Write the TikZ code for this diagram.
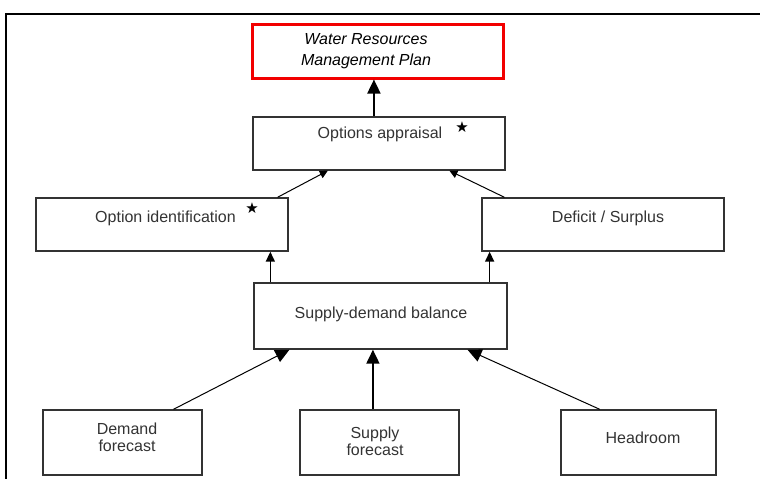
\documentclass[tikz,border=0pt]{standalone}
\usepackage{fontspec}
\setmainfont{Liberation Sans}
\newfontfamily\symfont{DejaVu Sans}
\usetikzlibrary{arrows.meta,calc}
\begin{document}
\begin{tikzpicture}[x=1pt,y=-1pt,
  box/.style={draw=black!80,line width=1.4pt,fill=white,inner sep=0pt},
  redbox/.style={draw=red!95!black,line width=3pt,inner sep=0pt},
  lbl/.style={text=black!80,font=\fontsize{16}{17}\selectfont,align=center,inner sep=0pt},
  ital/.style={text=black,font=\fontsize{16}{21}\selectfont\itshape,align=center,inner sep=0pt},
  starmark/.style={font=\symfont\fontsize{15}{15}\selectfont,inner sep=0pt},
  bigarr/.style={line width=1.8pt,-{Triangle[width=13pt,length=14pt]}},
  midarr/.style={line width=1.6pt,-{Triangle[width=9pt,length=10pt]}},
  thinarr/.style={line width=1pt,-{Triangle[width=8pt,length=8pt]}},
  diagarr/.style={line width=1pt,-{Triangle[width=13pt,length=14pt]}}]
\useasboundingbox (0,0) rectangle (760,479);
\fill[white] (0,0) rectangle (760,479);
% frame
\draw[line width=2.7pt] (6,479) -- (6,14) -- (760,14);
% boxes
\node[redbox,minimum width=251pt,minimum height=54pt] (wrmp) at (377.5,51) {};
\node[box,minimum width=252pt,minimum height=53pt] (opt) at (379,143.5) {};
\node[box,minimum width=252pt,minimum height=53pt] (oid) at (162,224.5) {};
\node[box,minimum width=242pt,minimum height=53pt] (def) at (603,224.5) {};
\node[box,minimum width=253pt,minimum height=66pt] (sdb) at (380.5,316) {};
\node[box,minimum width=159pt,minimum height=65pt] (dem) at (122.5,442.5) {};
\node[box,minimum width=159pt,minimum height=65pt] (sup) at (379.5,442.5) {};
\node[box,minimum width=155pt,minimum height=65pt] (head) at (638.5,442.5) {};
% texts
\node[ital] (twrmp) at (366,51) {Water Resources\\Management Plan};
\node[lbl] (topt) at (380,134) {Options appraisal};
\node[lbl] (toid) at (165.5,218) {Option identification};
\node[lbl] (tdef) at (608,218) {Deficit / Surplus};
\node[lbl] (tsdb) at (381,314) {Supply-demand balance};
\node[lbl] (tdem) at (127,437) {Demand\\forecast};
\node[lbl] (tsup) at (375,441) {Supply\\forecast};
\node[lbl] (thead) at (643,438) {Headroom};
\node[starmark] (s1) at (462,127) {★};
\node[starmark] (s2) at (252,208) {★};
% connector end points
\coordinate (a1) at ($(opt.north west)!0.48!(opt.north east)$);
\coordinate (a2) at ($(oid.north west)!0.956!(oid.north east)$);
\coordinate (a3) at ($(opt.south west)!0.298!(opt.south east)$);
\coordinate (a4) at ($(def.north west)!0.095!(def.north east)$);
\coordinate (a5) at ($(opt.south west)!0.778!(opt.south east)$);
\coordinate (a6) at ($(sdb.north west)!0.067!(sdb.north east)$);
\coordinate (a7) at ($(sdb.north west)!0.929!(sdb.north east)$);
\coordinate (a8) at ($(dem.north west)!0.818!(dem.north east)$);
\coordinate (a9) at ($(sdb.south west)!0.142!(sdb.south east)$);
\coordinate (a10) at ($(sup.north west)!0.459!(sup.north east)$);
\coordinate (a11) at ($(head.north west)!0.252!(head.north east)$);
\coordinate (a12) at ($(sdb.south west)!0.842!(sdb.south east)$);
% connectors
\draw[bigarr] (a1) -- (a1 |- wrmp.south);
\draw[thinarr] (a2) -- (a3);
\draw[thinarr] (a4) -- (a5);
\draw[midarr] (a6) -- (a6 |- oid.south);
\draw[midarr] (a7) -- (a7 |- def.south);
\draw[diagarr] (a8) -- (a9);
\draw[bigarr] (a10) -- (a10 |- sdb.south);
\draw[diagarr] (a11) -- (a12);
\end{tikzpicture}
\end{document}
